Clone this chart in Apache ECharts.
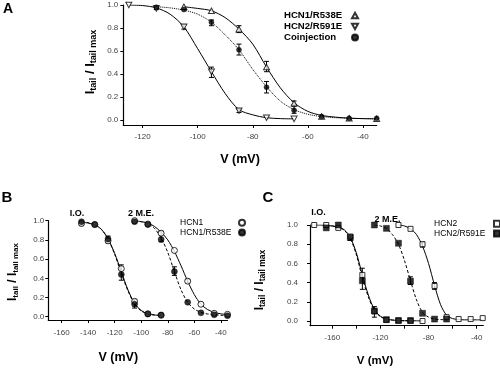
<!DOCTYPE html>
<html><head><meta charset="utf-8">
<script src="https://cdn.jsdelivr.net/npm/echarts@6/dist/echarts.min.js"></script>
<style>html,body{margin:0;padding:0;background:#fff}#c{width:500px;height:368px}</style>
</head><body><div id="c"></div>
<script>
// ---------- Panel A data ----------
const voltA = [-125,-115,-105,-95,-85,-75,-65,-55,-45,-35];
const hcn1R538E_A = [null,null,0.985,0.95,0.79,0.46,0.145,0.03,0.015,0.01];
const hcn2R591E_A = [1.0,0.97,0.81,0.42,0.08,0.02,0.01,null,null,null];
const coinjA = [null,0.98,0.96,0.85,0.61,0.285,0.085,0.03,0.015,0.015];
const errHcn1A = [[-85,0.76,0.82],[-75,0.42,0.51],[-65,0.13,0.165]];
const errHcn2A = [[-115,0.96,0.99],[-105,0.79,0.83],[-95,0.37,0.46],[-85,0.065,0.095]];
const errCoinjA = [[-95,0.82,0.87],[-85,0.565,0.66],[-75,0.235,0.335],[-65,0.058,0.12]];
const fitVoltA = [-125,-120,-115,-110,-105,-100,-95,-90,-85,-80,-75,-70,-65,-60,-55,-50,-45,-40,-35];
const fitHcn1A = [null,null,null,null,0.985,0.97,0.95,0.89,0.79,0.66,0.46,0.28,0.15,0.075,0.04,0.025,0.016,0.012,0.01];
const fitHcn2A = [1.0,0.995,0.975,0.92,0.81,0.62,0.42,0.23,0.09,0.045,0.02,0.012,0.01,null,null,null,null,null,null];
const fitCoinjA = [null,null,0.985,0.975,0.955,0.92,0.85,0.74,0.61,0.44,0.29,0.165,0.09,0.05,0.03,0.02,0.015,0.012,0.01];
const xTicksA = [-120,-100,-80,-60,-40];
const yTicks = [0,0.2,0.4,0.6,0.8,1.0];

// ---------- Panel B data ----------
const voltB_IO = [-145,-135,-125,-115,-105,-95,-85];
const hcn1B_IO = [0.97,0.96,0.79,0.50,0.16,0.03,0.015];
const r538B_IO = [0.99,0.96,0.81,0.44,0.13,0.028,0.018];
const voltB_ME = [-105,-95,-85,-75,-65,-55,-45,-35];
const hcn1B_ME = [1.0,0.965,0.87,0.69,0.37,0.13,0.035,0.025];
const r538B_ME = [0.99,0.96,0.805,0.47,0.15,0.04,0.02,0.01];
const errB = [[-145,0.95,0.99],[-125,0.77,0.84],[-115,0.38,0.54],[-105,0.09,0.18],[-85,0.78,0.89],[-75,0.43,0.52],[-65,0.35,0.39]];
const fitVoltB_IO = [-145,-140,-135,-130,-125,-120,-115,-110,-105,-100,-95,-90,-85];
const fitHcn1B_IO = [0.985,0.975,0.955,0.91,0.81,0.66,0.47,0.28,0.14,0.065,0.03,0.018,0.012];
const fitR538B_IO = [0.99,0.98,0.96,0.91,0.81,0.65,0.45,0.27,0.13,0.06,0.03,0.018,0.012];
const fitVoltB_ME = [-105,-100,-95,-90,-85,-80,-75,-70,-65,-60,-55,-50,-45,-40,-35];
const fitHcn1B_ME = [1.0,0.99,0.975,0.94,0.88,0.80,0.68,0.53,0.37,0.23,0.13,0.075,0.045,0.03,0.022];
const fitR538B_ME = [0.995,0.99,0.97,0.92,0.82,0.67,0.47,0.28,0.15,0.08,0.045,0.028,0.02,0.015,0.012];
const xTicksB = [-160,-140,-120,-100,-80,-60,-40];

// ---------- Panel C data ----------
const voltC_IO = [-175,-165,-155,-145,-135,-125,-115,-105,-95,-85];
const hcn2C_IO = [1.0,1.0,0.97,0.88,0.48,0.10,0.01,0.005,0.003,0.0];
const r591C_IO = [null,0.97,1.0,0.87,0.42,0.105,0.015,0.005,0.005,null];
const voltC_ME = [-125,-115,-105,-95,-85,-75,-65,-55,-45,-35];
const hcn2C_ME = [null,null,1.0,0.96,0.80,0.365,0.04,0.02,0.02,0.03];
const r591C_ME = [1.0,0.965,0.81,0.415,0.08,0.02,0.02,null,null,null];
const errC = [[-145,0.84,0.90],[-135,0.33,0.55],[-125,0.04,0.15],[-95,0.38,0.46],[-85,0.77,0.82],[-75,0.33,0.40]];
const fitVoltC_IO = [-175,-170,-165,-160,-155,-150,-145,-140,-135,-130,-125,-120,-115,-110,-105,-100,-95,-90,-85];
const fitHcn2C_IO = [1.0,1.0,0.995,0.99,0.975,0.95,0.87,0.71,0.48,0.27,0.12,0.05,0.02,0.01,0.005,0.003,0.002,0.002,0.002];
const fitR591C_IO = [null,null,0.99,0.99,0.975,0.945,0.86,0.69,0.45,0.25,0.11,0.045,0.018,0.01,0.005,0.003,0.002,null,null];
const fitVoltC_ME = [-125,-120,-115,-110,-105,-100,-95,-90,-85,-80,-75,-70,-65,-60,-55,-50,-45,-40,-35];
const fitR591C_ME = [1.0,0.99,0.965,0.9,0.8,0.63,0.42,0.22,0.09,0.04,0.02,0.015,0.012,null,null,null,null,null,null];
const fitHcn2C_ME = [null,null,null,null,1.0,0.99,0.96,0.9,0.78,0.6,0.37,0.17,0.06,0.025,0.015,0.012,0.012,0.012,0.012];
const xTicksC = [-160,-140,-120,-100,-80,-60,-40];
const xLabelsC = [-160,-120,-80,-40];

// ---------- helpers ----------
const FONT = 'Liberation Sans';
function pts(xs, ys){ return xs.map((x,i)=>[x, ys[i]]).filter(p=>p[1]!=null); }
function errRender(params, api){
  const x = api.value(0), lo = api.value(1), hi = api.value(2);
  const p1 = api.coord([x, hi]), p2 = api.coord([x, lo]);
  const w = 2.5, st = {stroke:'#000', lineWidth:1};
  return {type:'group', children:[
    {type:'line', shape:{x1:p1[0],y1:p1[1],x2:p2[0],y2:p2[1]}, style:st},
    {type:'line', shape:{x1:p1[0]-w,y1:p1[1],x2:p1[0]+w,y2:p1[1]}, style:st},
    {type:'line', shape:{x1:p2[0]-w,y1:p2[1],x2:p2[0]+w,y2:p2[1]}, style:st}
  ]};
}
function err(idx, data){
  return {type:'custom', xAxisIndex:idx, yAxisIndex:idx, renderItem:errRender, data:data,
          encode:{x:0, y:[1,2]}, z:4, silent:true};
}
function fit(idx, xs, ys, dash){
  return {type:'line', xAxisIndex:idx, yAxisIndex:idx, data:pts(xs, ys), symbol:'none', showSymbol:false,
          smooth:0.3, lineStyle:{color:'#000', width:1, type:dash||'solid'}, z:3, silent:true};
}
function sc(idx, name, xs, ys, symbol, size, filled){
  return {type:'scatter', name:name, xAxisIndex:idx, yAxisIndex:idx, data:pts(xs, ys), symbol:symbol,
          symbolSize:size, z:5,
          itemStyle: filled ? {color:'#000', borderColor:'#000', borderWidth:0.5}
                            : {color:'#fff', borderColor:'#000', borderWidth:1}};
}
const DOWN = 'path://M0,0L10,0L5,9Z';
const UP = 'path://M5,0L10,9L0,9Z';

function xAx(idx, min, max, ticks, labels, margin){
  return {type:'value', gridIndex:idx, min:min, max:max,
    axisLine:{onZero:false, lineStyle:{color:'#000', width:1.2}},
    axisTick:{length:3, customValues:ticks, lineStyle:{color:'#000'}},
    axisLabel:{customValues:labels, fontSize:8, color:'#444', fontFamily:FONT, margin:margin},
    splitLine:{show:false}};
}
function yAx(idx, min, margin){
  return {type:'value', gridIndex:idx, min:min, max:1.0,
    axisLine:{onZero:false, lineStyle:{color:'#000', width:1.2}},
    axisTick:{length:3, customValues:yTicks, lineStyle:{color:'#000'}},
    axisLabel:{customValues:yTicks, fontSize:8, color:'#444', fontFamily:FONT, margin:margin,
               formatter:v=>v.toFixed(1)},
    splitLine:{show:false}};
}
function ytitle(x, y, big, small){
  return {type:'text', x:x, y:y, rotation:Math.PI/2, z:10,
    style:{text:'{b|I}{s|tail}{b| / I}{s|tail max}', align:'center', verticalAlign:'middle',
      rich:{b:{fontSize:big, fontWeight:'bold', fontFamily:FONT, lineHeight:big+3, fill:'#000'},
            s:{fontSize:small, fontWeight:'bold', fontFamily:FONT, lineHeight:small, verticalAlign:'bottom', fill:'#000'}}}};
}
function txt(x, y, t, size, weight){
  return {type:'text', x:x, y:y, z:10, style:{text:t, fontSize:size, fontWeight:weight||'bold', fontFamily:FONT,
    fill:'#000', align:'center', verticalAlign:'middle'}};
}
function leg(names, left, top, w, size, weight, lh, iw){
  return {data:names, orient:'vertical', left:left, top:top, align:'right',
     padding:0, itemGap:0, itemWidth:iw, itemHeight:iw, selectedMode:false,
     formatter: n => '{t|' + n + '}',
     textStyle:{fontSize:size, fontWeight:weight, fontFamily:FONT, color:'#000', lineHeight:lh,
       rich:{t:{width:w, align:'left', fontSize:size, fontWeight:weight, fontFamily:FONT, color:'#000', lineHeight:lh}}}};
}

const chart = echarts.init(document.getElementById('c'), null, {renderer:'canvas'});
chart.setOption({
  animation:false,
  backgroundColor:'#fff',
  grid:[
    {left:123.3, top:5, width:253.4, height:120},
    {left:48.3, top:220.7, width:179.2, height:99.3},
    {left:310, top:225, width:173.3, height:100.7}
  ],
  xAxis:[
    xAx(0, -127, -35, xTicksA, xTicksA, 8),
    xAx(1, -170, -35, xTicksB, xTicksB, 9),
    xAx(2, -178.5, -34.5, xTicksC, xLabelsC, 8)
  ],
  yAxis:[ yAx(0, -0.0435, 5), yAx(1, -0.0344, 4), yAx(2, -0.049, 12) ],
  legend:[
    leg(['HCN1/R538E','HCN2/R591E','Coinjection'], 284, 10, 63, 9.6, 'bold', 11, 6),
    leg(['HCN1','HCN1/R538E '], 180, 218, 54, 8.5, 'normal', 9.7, 6),
    leg(['HCN2','HCN2/R591E '], 434, 219, 55, 8.5, 'normal', 9.7, 6)
  ],
  series:[
    // Panel A
    fit(0, fitVoltA, fitHcn1A), fit(0, fitVoltA, fitHcn2A), fit(0, fitVoltA, fitCoinjA, 'dotted'),
    err(0, errHcn1A), err(0, errHcn2A), err(0, errCoinjA),
    sc(0, 'HCN1/R538E', voltA, hcn1R538E_A, UP, [6,5.5], false),
    sc(0, 'HCN2/R591E', voltA, hcn2R591E_A, DOWN, [6,5.5], false),
    sc(0, 'Coinjection', voltA, coinjA, 'circle', 5, true),
    // Panel B
    fit(1, fitVoltB_IO, fitHcn1B_IO), fit(1, fitVoltB_IO, fitR538B_IO, [3,2]),
    fit(1, fitVoltB_ME, fitHcn1B_ME), fit(1, fitVoltB_ME, fitR538B_ME, [3,2]),
    err(1, errB),
    sc(1, 'HCN1', voltB_IO, hcn1B_IO, 'circle', 6, false),
    sc(1, 'HCN1', voltB_ME, hcn1B_ME, 'circle', 6, false),
    sc(1, 'HCN1/R538E ', voltB_IO, r538B_IO, 'circle', 6, true),
    sc(1, 'HCN1/R538E ', voltB_ME, r538B_ME, 'circle', 6, true),
    // Panel C
    fit(2, fitVoltC_IO, fitHcn2C_IO), fit(2, fitVoltC_IO, fitR591C_IO, [3,2]),
    fit(2, fitVoltC_ME, fitHcn2C_ME), fit(2, fitVoltC_ME, fitR591C_ME, [3,2]),
    err(2, errC),
    sc(2, 'HCN2', voltC_IO, hcn2C_IO, 'rect', 5, false),
    sc(2, 'HCN2', voltC_ME, hcn2C_ME, 'rect', 5, false),
    sc(2, 'HCN2/R591E ', voltC_IO, r591C_IO, 'rect', 6, true),
    sc(2, 'HCN2/R591E ', voltC_ME, r591C_ME, 'rect', 6, true)
  ],
  graphic:[
    txt(8, 9, 'A', 14),
    txt(7, 197.5, 'B', 15),
    txt(268, 197.5, 'C', 15),
    txt(240, 160, 'V (mV)', 12.5),
    txt(118.3, 357.7, 'V (mV)', 12.5),
    txt(375, 360.5, 'V (mV)', 11.5),
    ytitle(90, 62, 13, 9),
    ytitle(12.5, 272, 12, 8),
    ytitle(260, 280, 12, 8.5),
    txt(77, 214, 'I.O.', 9),
    txt(141, 213.5, '2 M.E.', 9),
    txt(318.5, 213, 'I.O.', 9),
    txt(387.5, 219.3, '2 M.E.', 9)
  ]
});
</script></body></html>
